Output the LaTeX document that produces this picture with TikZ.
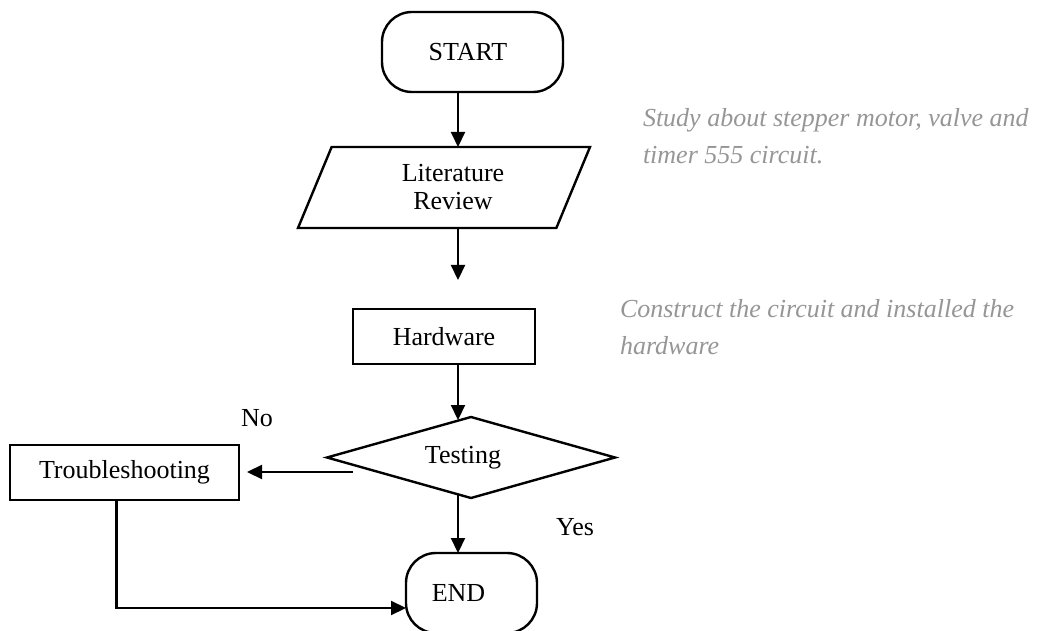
\documentclass[tikz,border=0pt]{standalone}
\usepackage{fontspec}
\setmainfont{Liberation Serif}
\usetikzlibrary{arrows.meta,shapes.geometric,calc}
\definecolor{notegray}{RGB}{150,150,150}
\begin{document}
\begin{tikzpicture}[x=1pt,y=-1pt,
  every node/.style={inner sep=0pt, outer sep=0pt},
  boxtext/.style={font=\fontsize{26}{28}\selectfont},
  shapeline/.style={draw=black, line width=2.4pt},
  termbox/.style={boxtext, shapeline, rectangle, rounded corners=30pt},
  procbox/.style={boxtext, shapeline, rectangle},
  iobox/.style={boxtext, shapeline, trapezium, trapezium left angle=53.5, trapezium right angle=126.5, trapezium stretches body, align=center},
  decbox/.style={boxtext, shapeline, diamond, aspect=3.4},
  arr/.style={draw=black, line width=2.2pt, -{Triangle[length=15pt,width=14pt]}},
  plainlbl/.style={boxtext},
  note/.style={font=\fontsize{26}{37}\selectfont\itshape, text=notegray, align=left, anchor=base west}
]
\fill[white] (0,0) rectangle (1039,631);
\useasboundingbox (0,0) rectangle (1039,631);

\coordinate (trunk) at (458,0);

\node[termbox, minimum width=181pt, minimum height=80pt] (start) at (472.5,52) {START\hspace*{9pt}};
\node[iobox, minimum width=292pt, minimum height=81pt] (lit) at (444,187.5) {\hspace*{18pt}Literature\\\hspace*{18pt}Review};
\node[procbox, minimum width=182pt, minimum height=55pt] (hw) at (444,336.5) {Hardware};
\node[decbox, minimum width=288pt, minimum height=81pt] (tst) at (471,457.5) {Testing\hspace*{16pt}};
\node[procbox, minimum width=229pt, minimum height=55pt] (trb) at (124.5,472.5) {Troubleshooting};
\node[termbox, minimum width=131pt, minimum height=80pt] (end) at (471.5,593) {END\hspace*{26pt}};

\node[plainlbl] (no) at (257,418) {No};
\node[plainlbl] (yes) at (575,527) {Yes};

\node[note] (note1) at (643,164) {Study about stepper motor, valve and\\timer 555 circuit.};
\node[note] (note2) at (620,354) {Construct the circuit and installed the\\hardware};

\draw[arr] (start.south -| trunk) -- (lit.north -| trunk);
\draw[arr, shorten >=29pt] (lit.south -| trunk) -- (hw.north -| trunk);
\draw[arr, shorten >=-3pt] (hw.south -| trunk) -- (tst.north -| trunk);
\coordinate (tleft) at ($(tst.west)+(26,14.5)$);
\draw[arr, shorten >=8pt] (tleft) -- (tleft -| trb.east);
\draw[arr, shorten <=-3pt] (tst.south -| trunk) -- (end.north -| trunk);
\draw[arr] ([xshift=-8pt]trb.south) |- ([yshift=-15pt]end.west);
\end{tikzpicture}
\end{document}
